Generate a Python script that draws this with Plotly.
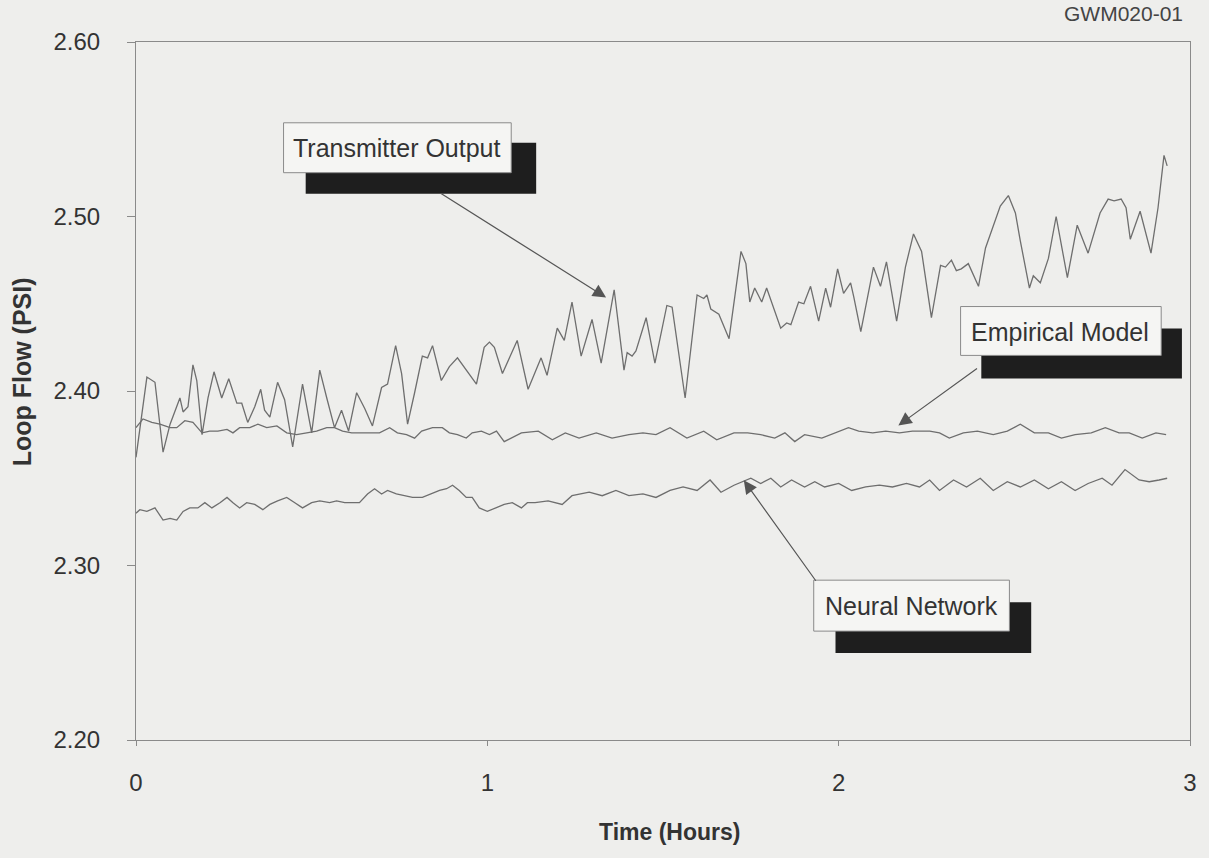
import plotly.graph_objects as go

# ---------------- data ----------------
tx_time = [0.000, 0.031, 0.054, 0.077, 0.097, 0.125, 0.134, 0.148, 0.162, 0.173,
           0.188, 0.205, 0.222, 0.244, 0.264, 0.287, 0.301, 0.318, 0.338, 0.355,
           0.366, 0.381, 0.403, 0.423, 0.446, 0.474, 0.500, 0.523, 0.543, 0.565,
           0.585, 0.605, 0.628, 0.651, 0.673, 0.699, 0.716, 0.739, 0.756, 0.773,
           0.793, 0.815, 0.830, 0.844, 0.869, 0.892, 0.915, 0.940, 0.969, 0.991,
           1.006, 1.020, 1.043, 1.063, 1.085, 1.116, 1.153, 1.170, 1.199, 1.219,
           1.241, 1.267, 1.298, 1.324, 1.361, 1.389, 1.398, 1.412, 1.423, 1.452,
           1.477, 1.511, 1.526, 1.563, 1.597, 1.616, 1.625, 1.636, 1.659, 1.688,
           1.722, 1.736, 1.747, 1.761, 1.781, 1.795, 1.815, 1.835, 1.852, 1.864,
           1.886, 1.901, 1.920, 1.943, 1.963, 1.977, 1.997, 2.014, 2.034, 2.043,
           2.063, 2.099, 2.119, 2.136, 2.165, 2.190, 2.213, 2.236, 2.264, 2.290,
           2.304, 2.321, 2.335, 2.349, 2.369, 2.398, 2.418, 2.435, 2.460, 2.483,
           2.503, 2.517, 2.543, 2.554, 2.574, 2.597, 2.619, 2.651, 2.679, 2.710,
           2.744, 2.767, 2.784, 2.804, 2.818, 2.830, 2.858, 2.889, 2.909, 2.926,
           2.935]
tx_flow = [2.362, 2.408, 2.405, 2.365, 2.381, 2.396, 2.388, 2.391, 2.415, 2.406,
           2.375, 2.396, 2.411, 2.396, 2.407, 2.393, 2.393, 2.382, 2.391, 2.401,
           2.389, 2.385, 2.405, 2.395, 2.368, 2.404, 2.376, 2.412, 2.396, 2.379,
           2.389, 2.377, 2.399, 2.390, 2.380, 2.402, 2.404, 2.426, 2.410, 2.381,
           2.399, 2.420, 2.419, 2.426, 2.406, 2.414, 2.419, 2.412, 2.404, 2.425,
           2.428, 2.425, 2.410, 2.419, 2.429, 2.401, 2.419, 2.409, 2.436, 2.429,
           2.451, 2.420, 2.441, 2.416, 2.458, 2.412, 2.422, 2.420, 2.423, 2.442,
           2.416, 2.449, 2.448, 2.396, 2.455, 2.453, 2.455, 2.447, 2.444, 2.430,
           2.480, 2.473, 2.451, 2.459, 2.451, 2.459, 2.448, 2.436, 2.439, 2.438,
           2.451, 2.450, 2.460, 2.440, 2.459, 2.448, 2.470, 2.456, 2.462, 2.454,
           2.434, 2.471, 2.460, 2.474, 2.440, 2.471, 2.490, 2.480, 2.442, 2.472,
           2.471, 2.475, 2.469, 2.470, 2.473, 2.460, 2.482, 2.492, 2.506, 2.512,
           2.502, 2.486, 2.459, 2.466, 2.462, 2.476, 2.500, 2.465, 2.495, 2.479,
           2.502, 2.510, 2.509, 2.510, 2.505, 2.487, 2.503, 2.479, 2.505, 2.535,
           2.529]

em_time = [0.000, 0.020, 0.045, 0.068, 0.097, 0.116, 0.139, 0.162, 0.188, 0.210,
           0.233, 0.259, 0.276, 0.295, 0.324, 0.347, 0.372, 0.401, 0.429, 0.457,
           0.486, 0.514, 0.543, 0.565, 0.588, 0.614, 0.642, 0.665, 0.693, 0.722,
           0.744, 0.770, 0.793, 0.813, 0.844, 0.872, 0.892, 0.915, 0.940, 0.957,
           0.983, 1.006, 1.026, 1.048, 1.097, 1.145, 1.185, 1.222, 1.261, 1.310,
           1.355, 1.403, 1.443, 1.480, 1.520, 1.568, 1.616, 1.653, 1.702, 1.741,
           1.778, 1.818, 1.847, 1.875, 1.903, 1.952, 1.991, 2.028, 2.057, 2.097,
           2.134, 2.173, 2.210, 2.259, 2.287, 2.315, 2.355, 2.395, 2.440, 2.480,
           2.517, 2.557, 2.597, 2.634, 2.673, 2.719, 2.759, 2.798, 2.827, 2.864,
           2.903, 2.932]
em_flow = [2.379, 2.384, 2.382, 2.381, 2.379, 2.379, 2.383, 2.382, 2.376, 2.377,
           2.377, 2.378, 2.376, 2.379, 2.379, 2.381, 2.379, 2.380, 2.376, 2.375,
           2.376, 2.377, 2.379, 2.379, 2.377, 2.376, 2.376, 2.376, 2.376, 2.379,
           2.376, 2.375, 2.373, 2.377, 2.379, 2.379, 2.376, 2.375, 2.373, 2.376,
           2.377, 2.375, 2.377, 2.371, 2.376, 2.377, 2.372, 2.376, 2.373, 2.376,
           2.373, 2.375, 2.376, 2.375, 2.379, 2.373, 2.377, 2.372, 2.376, 2.376,
           2.375, 2.373, 2.376, 2.371, 2.375, 2.373, 2.376, 2.379, 2.377, 2.376,
           2.377, 2.376, 2.377, 2.377, 2.376, 2.373, 2.376, 2.377, 2.375, 2.377,
           2.381, 2.376, 2.376, 2.373, 2.375, 2.376, 2.379, 2.376, 2.376, 2.373,
           2.376, 2.375]

nn_time = [0.000, 0.011, 0.031, 0.054, 0.077, 0.097, 0.116, 0.134, 0.153, 0.176,
           0.196, 0.216, 0.239, 0.259, 0.276, 0.295, 0.315, 0.338, 0.361, 0.381,
           0.403, 0.429, 0.452, 0.474, 0.500, 0.523, 0.551, 0.571, 0.594, 0.616,
           0.636, 0.659, 0.679, 0.699, 0.716, 0.741, 0.764, 0.787, 0.815, 0.841,
           0.864, 0.884, 0.901, 0.920, 0.940, 0.957, 0.977, 1.000, 1.026, 1.048,
           1.071, 1.097, 1.114, 1.136, 1.173, 1.213, 1.241, 1.290, 1.327, 1.366,
           1.403, 1.443, 1.480, 1.520, 1.557, 1.597, 1.634, 1.665, 1.702, 1.750,
           1.778, 1.807, 1.835, 1.866, 1.903, 1.932, 1.960, 2.000, 2.037, 2.077,
           2.116, 2.153, 2.193, 2.230, 2.259, 2.287, 2.327, 2.364, 2.403, 2.440,
           2.480, 2.517, 2.557, 2.597, 2.634, 2.673, 2.710, 2.750, 2.778, 2.815,
           2.855, 2.884, 2.912, 2.935]
nn_flow = [2.330, 2.332, 2.331, 2.333, 2.326, 2.327, 2.326, 2.331, 2.333, 2.333,
           2.336, 2.333, 2.336, 2.339, 2.336, 2.333, 2.336, 2.335, 2.332, 2.335,
           2.337, 2.339, 2.336, 2.333, 2.336, 2.337, 2.336, 2.337, 2.336, 2.336,
           2.336, 2.341, 2.344, 2.341, 2.343, 2.341, 2.340, 2.339, 2.339, 2.341,
           2.343, 2.344, 2.346, 2.343, 2.339, 2.339, 2.333, 2.331, 2.333, 2.335,
           2.336, 2.333, 2.336, 2.336, 2.337, 2.335, 2.340, 2.342, 2.340, 2.343,
           2.340, 2.341, 2.339, 2.343, 2.345, 2.343, 2.349, 2.342, 2.346, 2.350,
           2.347, 2.350, 2.345, 2.349, 2.345, 2.348, 2.345, 2.347, 2.343, 2.345,
           2.346, 2.345, 2.347, 2.345, 2.349, 2.343, 2.349, 2.345, 2.350, 2.343,
           2.348, 2.345, 2.349, 2.344, 2.348, 2.343, 2.347, 2.350, 2.346, 2.355,
           2.349, 2.348, 2.349, 2.350]

x_ticks = [0, 1, 2, 3]
y_ticks = [2.20, 2.30, 2.40, 2.50, 2.60]
y_tick_text = ["2.20", "2.30", "2.40", "2.50", "2.60"]

# ---------------- styling ----------------
BG = "#eeeeec"
LINE = "#6e6e6e"
TEXT = "#333333"
FONT = "Liberation Sans, Arial, sans-serif"

fig = go.Figure()
for t, v, name in [(tx_time, tx_flow, "Transmitter Output"),
                   (em_time, em_flow, "Empirical Model"),
                   (nn_time, nn_flow, "Neural Network")]:
    fig.add_trace(go.Scatter(x=t, y=v, mode="lines", name=name,
                             line=dict(color=LINE, width=1.3), showlegend=False))

# callout boxes: (shadow rect, box rect, text, text pos, arrow tail, arrow tip)
callouts = [
    dict(shadow=(0.483, 2.5131, 1.139, 2.5423), box=(0.420, 2.5251, 1.068, 2.5537),
         text="Transmitter Output", tpos=(0.744, 2.5394),
         tail=(0.864, 2.5137), tip=(1.338, 2.4536)),
    dict(shadow=(2.406, 2.4072, 2.977, 2.4358), box=(2.347, 2.4204, 2.918, 2.4484),
         text="Empirical Model", tpos=(2.631, 2.4341),
         tail=(2.398, 2.4135), tip=(2.170, 2.3803)),
    dict(shadow=(1.991, 2.2498, 2.548, 2.2790), box=(1.929, 2.2624, 2.486, 2.2916),
         text="Neural Network", tpos=(2.207, 2.2767),
         tail=(1.938, 2.2904), tip=(1.730, 2.3488)),
]

shapes = []
annotations = []
for c in callouts:
    x0, y0, x1, y1 = c["shadow"]
    shapes.append(dict(type="rect", xref="x", yref="y", x0=x0, y0=y0, x1=x1, y1=y1,
                       fillcolor="#1e1e1e", line=dict(width=0), layer="above"))
    x0, y0, x1, y1 = c["box"]
    shapes.append(dict(type="rect", xref="x", yref="y", x0=x0, y0=y0, x1=x1, y1=y1,
                       fillcolor="#f5f5f3", line=dict(color="#8a8a8a", width=1),
                       layer="above"))
    annotations.append(dict(x=c["tpos"][0], y=c["tpos"][1], xref="x", yref="y",
                            text=c["text"], showarrow=False,
                            font=dict(family=FONT, size=25, color=TEXT)))
    annotations.append(dict(x=c["tip"][0], y=c["tip"][1], xref="x", yref="y",
                            ax=c["tail"][0], ay=c["tail"][1], axref="x", ayref="y",
                            text="", showarrow=True, arrowhead=2, arrowsize=2.2,
                            arrowwidth=1.2, arrowcolor="#555555"))

# axis titles & label
annotations.append(dict(x=0.506, y=-0.132, xref="paper", yref="paper",
                        xanchor="center", yanchor="middle",
                        text="<b>Time (Hours)</b>", showarrow=False,
                        font=dict(family=FONT, size=23, color=TEXT)))
annotations.append(dict(x=-0.108, y=0.527, xref="paper", yref="paper",
                        xanchor="center", yanchor="middle",
                        text="<b>Loop Flow (PSI)</b>", showarrow=False, textangle=-90,
                        font=dict(family=FONT, size=25, color=TEXT)))
annotations.append(dict(x=0.937, y=1.0415, xref="paper", yref="paper",
                        xanchor="center", yanchor="middle",
                        text="GWM020-01", showarrow=False,
                        font=dict(family=FONT, size=21, color="#444444")))

fig.update_layout(
    width=1209, height=858,
    margin=dict(l=136, r=17, t=42, b=118),
    paper_bgcolor=BG, plot_bgcolor=BG,
    shapes=shapes, annotations=annotations,
    font=dict(family=FONT, color=TEXT),
)
fig.update_xaxes(range=[0, 3], tickvals=x_ticks, ticktext=[str(v) for v in x_ticks],
                 showgrid=False, zeroline=False, showline=True, mirror=True,
                 linecolor="#8a8a8a", linewidth=1, ticks="outside", ticklen=5,
                 tickcolor="#8a8a8a", ticklabelstandoff=16,
                 tickfont=dict(family=FONT, size=24, color=TEXT))
fig.update_yaxes(range=[2.2, 2.6], tickvals=y_ticks, ticktext=y_tick_text,
                 showgrid=False, zeroline=False, showline=True, mirror=True,
                 linecolor="#8a8a8a", linewidth=1, ticks="outside", ticklen=8,
                 tickcolor="#8a8a8a", ticklabelstandoff=22,
                 tickfont=dict(family=FONT, size=24, color=TEXT))

fig.write_html("out.html")
